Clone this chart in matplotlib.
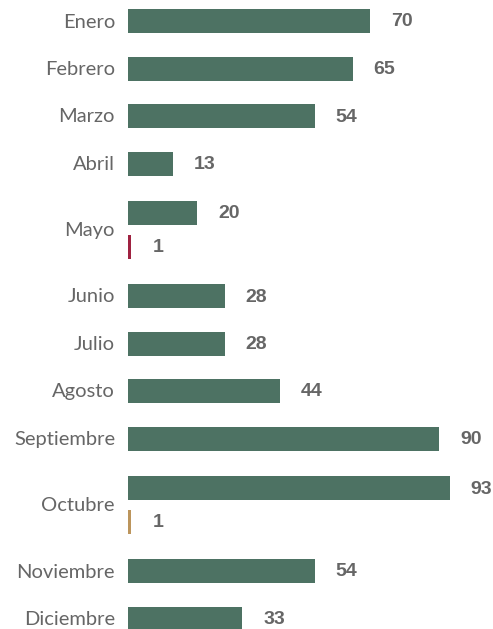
import matplotlib
matplotlib.use("Agg")
import matplotlib.pyplot as plt

months = ["Enero", "Febrero", "Marzo", "Abril", "Mayo", "Junio", "Julio",
          "Agosto", "Septiembre", "Octubre", "Noviembre", "Diciembre"]
main_values = [70, 65, 54, 13, 20, 28, 28, 44, 90, 93, 54, 33]
extra_values = [None, None, None, None, 1, None, None, None, None, 1, None, None]
extra_colors = [None, None, None, None, "#9F2241", None, None, None, None, "#BC955C", None, None]

GREEN = "#4D7263"
TEXT = "#666666"
plt.rcParams['font.family'] = ['Lato', 'DejaVu Sans']

W, H = 493, 629
fig = plt.figure(figsize=(W / 100, H / 100), dpi=100)
left_px = 128
ax = fig.add_axes([left_px / W, 0, (W - left_px) / W, 1])
px_per_unit = 3.457
ax.set_xlim(0, (W - left_px) / px_per_unit)
ax.set_ylim(H, 0)
ax.axis("off")

bar_h = 24
inner = 33.5
gap = 47.5
gap_multi = 49.5
y = 21
prev_multi = False
for i, m in enumerate(months):
    bars = [(main_values[i], GREEN)]
    if extra_values[i] is not None:
        bars.append((extra_values[i], extra_colors[i]))
    multi = len(bars) > 1
    if i > 0:
        y += gap_multi if (multi or prev_multi) else gap
    ys = []
    for j, (v, c) in enumerate(bars):
        if j > 0:
            y += inner
        ax.barh(y, v, height=bar_h, color=c, linewidth=0)
        ax.annotate(f"{v}", xy=(v, y), xytext=(21, -1), textcoords="offset pixels",
                    ha="left", va="center", fontsize=14, fontweight="bold",
                    family=["Liberation Sans", "DejaVu Sans"], color=TEXT)
        ys.append(y)
    yc = sum(ys) / len(ys)
    ax.annotate(m, xy=(0, yc), xytext=(-13, -1), textcoords="offset pixels",
                ha="right", va="center", fontsize=14.5, color=TEXT, annotation_clip=False)
    prev_multi = multi

fig.savefig("out.png", dpi=100)
